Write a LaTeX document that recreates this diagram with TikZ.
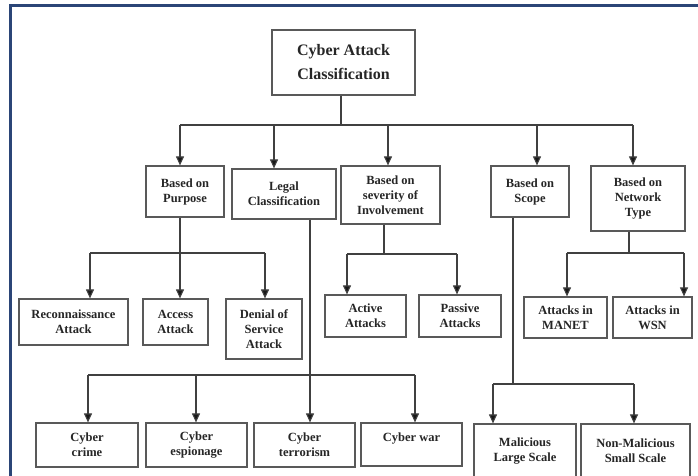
\documentclass[tikz,border=0pt]{standalone}
\usepackage{fontspec}
\setmainfont{Liberation Serif}
\usetikzlibrary{arrows.meta}
\definecolor{framecol}{HTML}{2B4577}
\begin{document}
\begin{tikzpicture}[x=1pt,y=-1pt,
  box/.style={draw=black!65, line width=1.2pt, fill=white, align=center,
    font=\bfseries\fontsize{12.5}{15}\selectfont, text=black!85, inner sep=1pt},
  rootbox/.style={box, font=\bfseries\fontsize{16}{24}\selectfont},
  conn/.style={draw=black!75, line width=1.1pt},
  arr/.style={conn, -{Triangle[width=8pt,length=9pt,fill=black!90]}}]
\useasboundingbox (0,0) rectangle (698,476);
\clip (0,0) rectangle (698,476);
\fill[white] (0,0) rectangle (698,476);
\draw[line width=2.6pt, draw=framecol] (10.5,480) -- (10.5,5.5) -- (700,5.5);

% root
\node[rootbox, minimum width=143pt, minimum height=65pt] (root) at (343.5,62.5) {Cyber Attack\\Classification};

% level 1
\node[box, minimum width=78pt, minimum height=51pt] (purpose) at (185,191.5) {Based on\\Purpose};
\node[box, minimum width=104pt, minimum height=50pt] (legal) at (284,194) {Legal\\Classification};
\node[box, minimum width=99pt, minimum height=58pt] (severity) at (390.5,195) {Based on\\severity of\\Involvement};
\node[box, minimum width=78pt, minimum height=51pt] (scope) at (530,191.5) {Based on\\Scope};
\node[box, minimum width=94pt, minimum height=65pt] (network) at (638,198.5) {Based on\\Network\\Type};

% level 2
\node[box, minimum width=109pt, minimum height=46pt] (recon) at (73.5,322) {Reconnaissance\\Attack};
\node[box, minimum width=65pt, minimum height=46pt] (access) at (175.5,322) {Access\\Attack};
\node[box, minimum width=76pt, minimum height=60pt] (denial) at (264,329) {Denial of\\Service\\Attack};
\node[box, minimum width=81pt, minimum height=42pt] (active) at (365.5,316) {Active\\Attacks};
\node[box, minimum width=82pt, minimum height=42pt] (passive) at (460,316) {Passive\\Attacks};
\node[box, minimum width=83pt, minimum height=41pt] (manet) at (565.5,317.5) {Attacks in\\MANET};
\node[box, minimum width=79pt, minimum height=41pt] (wsn) at (652.5,317.5) {Attacks in\\WSN};

% level 3
\node[box, minimum width=102pt, minimum height=44pt] (crime) at (87,445) {Cyber\\crime};
\node[box, minimum width=101pt, minimum height=44pt] (espionage) at (196.5,445) {Cyber\\espionage};
\node[box, minimum width=101pt, minimum height=44pt] (terrorism) at (304.5,445) {Cyber\\terrorism};
\node[box, minimum width=101pt, minimum height=43pt] (war) at (411.5,444.5) {Cyber war\\\mbox{}};
\node[box, minimum width=102pt, minimum height=54pt] (malicious) at (525,451) {Malicious\\Large Scale};
\node[box, minimum width=109pt, minimum height=54pt] (nonmal) at (635.5,451) {Non-Malicious\\Small Scale};

% root connectors
\coordinate (t0) at (341,125);
\coordinate (tPur) at (180,125);
\coordinate (tLeg) at (274,125);
\coordinate (tSev) at (388,125);
\coordinate (tSco) at (537,125);
\coordinate (tNet) at (633,125);
\draw[conn] (root.south -| t0) -- (t0);
\draw[conn] (tPur) -- (tNet);
\draw[arr] (tPur) -- (purpose.north -| tPur);
\draw[arr] (tLeg) -- (legal.north -| tLeg);
\draw[arr] (tSev) -- (severity.north -| tSev);
\draw[arr] (tSco) -- (scope.north -| tSco);
\draw[arr] (tNet) -- (network.north -| tNet);

% purpose
\coordinate (pJ) at (180,253);
\coordinate (pL) at (90,253);
\coordinate (pR) at (265,253);
\draw[conn] (purpose.south -| pJ) -- (pJ);
\draw[conn] (pL) -- (pR);
\draw[arr] (pL) -- (recon.north -| pL);
\draw[arr] (pJ) -- (access.north -| pJ);
\draw[arr] (pR) -- (denial.north -| pR);

% severity
\coordinate (sJ) at (384,254);
\coordinate (sL) at (347,254);
\coordinate (sR) at (457,254);
\draw[conn] (severity.south -| sJ) -- (sJ);
\draw[conn] (sL) -- (sR);
\draw[arr] (sL) -- (active.north -| sL);
\draw[arr] (sR) -- (passive.north -| sR);

% network
\coordinate (nJ) at (629,253);
\coordinate (nL) at (567,253);
\coordinate (nR) at (684,253);
\draw[conn] (network.south -| nJ) -- (nJ);
\draw[conn] (nL) -- (nR);
\draw[arr] (nL) -- (manet.north -| nL);
\draw[arr] (nR) -- (wsn.north -| nR);

% legal
\coordinate (lJ) at (310,375);
\coordinate (lL) at (88,375);
\coordinate (lE) at (196,375);
\coordinate (lR) at (415,375);
\draw[conn] (legal.south -| lJ) -- (lJ);
\draw[conn] (lL) -- (lR);
\draw[arr] (lL) -- (crime.north -| lL);
\draw[arr] (lE) -- (espionage.north -| lE);
\draw[arr] (lJ) -- (terrorism.north -| lJ);
\draw[arr] (lR) -- (war.north -| lR);

% scope
\coordinate (cJ) at (513,384);
\coordinate (cL) at (493,384);
\coordinate (cR) at (634,384);
\draw[conn] (scope.south -| cJ) -- (cJ);
\draw[conn] (cL) -- (cR);
\draw[arr] (cL) -- (malicious.north -| cL);
\draw[arr] (cR) -- (nonmal.north -| cR);
\end{tikzpicture}
\end{document}
